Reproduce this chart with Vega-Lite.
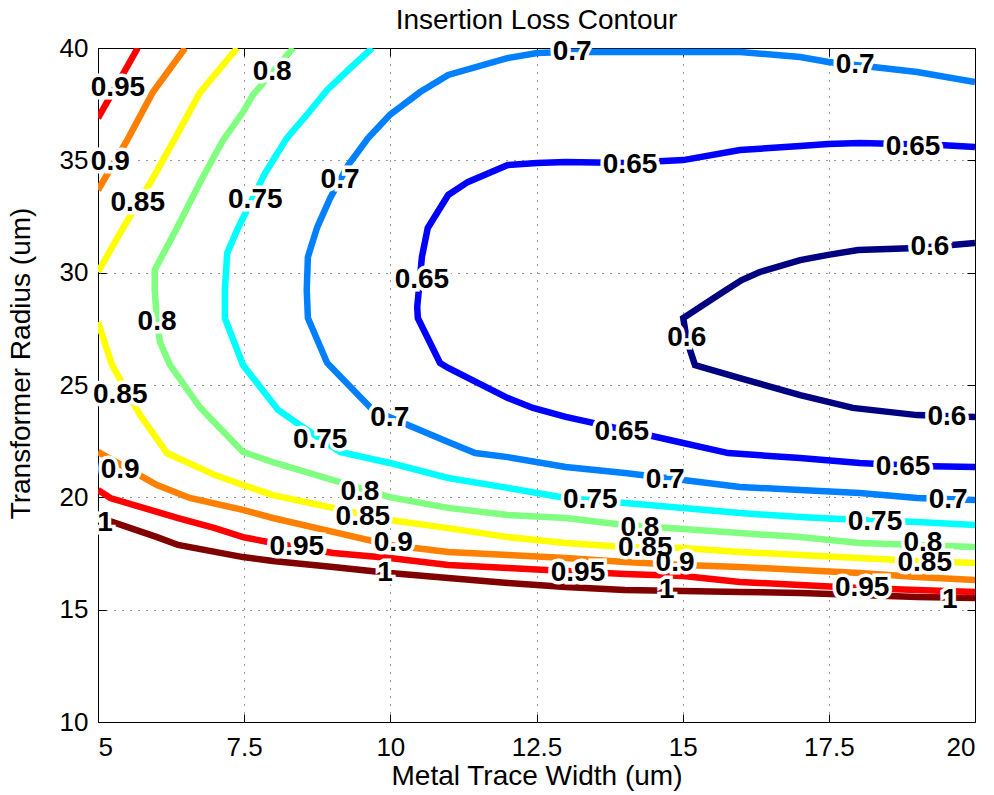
{
  "$schema": "https://vega.github.io/schema/vega-lite/v6.json",
  "width": 877,
  "height": 674,
  "autosize": {"type": "none"},
  "padding": {"left": 98, "top": 48, "right": 19, "bottom": 73},
  "background": "white",
  "title": {"text": "Insertion Loss Contour", "fontSize": 28, "fontWeight": "normal", "font": "Liberation Sans", "color": "black", "anchor": "middle", "frame": "group", "offset": 0},
  "datasets": {
    "lines": [
      {"level": "1", "seg": "a", "i": 0, "x": 5.00, "y": 19.12},
      {"level": "1", "seg": "a", "i": 1, "x": 6.01, "y": 18.23},
      {"level": "1", "seg": "a", "i": 2, "x": 6.37, "y": 17.88},
      {"level": "1", "seg": "a", "i": 3, "x": 7.00, "y": 17.57},
      {"level": "1", "seg": "a", "i": 4, "x": 7.48, "y": 17.34},
      {"level": "1", "seg": "a", "i": 5, "x": 7.99, "y": 17.17},
      {"level": "1", "seg": "a", "i": 6, "x": 9.02, "y": 16.90},
      {"level": "1", "seg": "a", "i": 7, "x": 9.99, "y": 16.63},
      {"level": "1", "seg": "a", "i": 8, "x": 10.99, "y": 16.41},
      {"level": "1", "seg": "a", "i": 9, "x": 12.01, "y": 16.19},
      {"level": "1", "seg": "a", "i": 10, "x": 13.00, "y": 16.01},
      {"level": "1", "seg": "a", "i": 11, "x": 14.01, "y": 15.88},
      {"level": "1", "seg": "a", "i": 12, "x": 15.01, "y": 15.83},
      {"level": "1", "seg": "a", "i": 13, "x": 15.98, "y": 15.79},
      {"level": "1", "seg": "a", "i": 14, "x": 17.01, "y": 15.74},
      {"level": "1", "seg": "a", "i": 15, "x": 18.03, "y": 15.65},
      {"level": "1", "seg": "a", "i": 16, "x": 19.01, "y": 15.56},
      {"level": "1", "seg": "a", "i": 17, "x": 20.00, "y": 15.52},

      {"level": "0.95", "seg": "a", "i": 0, "x": 5.00, "y": 36.88},
      {"level": "0.95", "seg": "a", "i": 1, "x": 5.68, "y": 40.00},
      {"level": "0.95", "seg": "b", "i": 0, "x": 5.00, "y": 20.33},
      {"level": "0.95", "seg": "b", "i": 1, "x": 5.21, "y": 19.97},
      {"level": "0.95", "seg": "b", "i": 2, "x": 6.01, "y": 19.35},
      {"level": "0.95", "seg": "b", "i": 3, "x": 6.37, "y": 19.08},
      {"level": "0.95", "seg": "b", "i": 4, "x": 7.00, "y": 18.63},
      {"level": "0.95", "seg": "b", "i": 5, "x": 7.48, "y": 18.23},
      {"level": "0.95", "seg": "b", "i": 6, "x": 7.99, "y": 17.97},
      {"level": "0.95", "seg": "b", "i": 7, "x": 9.02, "y": 17.52},
      {"level": "0.95", "seg": "b", "i": 8, "x": 9.99, "y": 17.30},
      {"level": "0.95", "seg": "b", "i": 9, "x": 10.99, "y": 16.99},
      {"level": "0.95", "seg": "b", "i": 10, "x": 12.01, "y": 16.85},
      {"level": "0.95", "seg": "b", "i": 11, "x": 13.00, "y": 16.72},
      {"level": "0.95", "seg": "b", "i": 12, "x": 14.01, "y": 16.59},
      {"level": "0.95", "seg": "b", "i": 13, "x": 15.01, "y": 16.50},
      {"level": "0.95", "seg": "b", "i": 14, "x": 15.98, "y": 16.23},
      {"level": "0.95", "seg": "b", "i": 15, "x": 17.01, "y": 16.10},
      {"level": "0.95", "seg": "b", "i": 16, "x": 18.03, "y": 15.96},
      {"level": "0.95", "seg": "b", "i": 17, "x": 19.01, "y": 15.88},
      {"level": "0.95", "seg": "b", "i": 18, "x": 20.00, "y": 15.79},

      {"level": "0.9", "seg": "a", "i": 0, "x": 5.00, "y": 33.68},
      {"level": "0.9", "seg": "a", "i": 1, "x": 5.50, "y": 35.90},
      {"level": "0.9", "seg": "a", "i": 2, "x": 5.94, "y": 38.04},
      {"level": "0.9", "seg": "a", "i": 3, "x": 6.49, "y": 40.00},
      {"level": "0.9", "seg": "b", "i": 0, "x": 5.00, "y": 22.02},
      {"level": "0.9", "seg": "b", "i": 1, "x": 6.01, "y": 20.55},
      {"level": "0.9", "seg": "b", "i": 2, "x": 6.57, "y": 19.97},
      {"level": "0.9", "seg": "b", "i": 3, "x": 7.48, "y": 19.44},
      {"level": "0.9", "seg": "b", "i": 4, "x": 7.99, "y": 19.08},
      {"level": "0.9", "seg": "b", "i": 5, "x": 9.02, "y": 18.46},
      {"level": "0.9", "seg": "b", "i": 6, "x": 9.99, "y": 17.88},
      {"level": "0.9", "seg": "b", "i": 7, "x": 10.99, "y": 17.57},
      {"level": "0.9", "seg": "b", "i": 8, "x": 12.01, "y": 17.43},
      {"level": "0.9", "seg": "b", "i": 9, "x": 13.00, "y": 17.30},
      {"level": "0.9", "seg": "b", "i": 10, "x": 14.01, "y": 17.12},
      {"level": "0.9", "seg": "b", "i": 11, "x": 15.01, "y": 16.99},
      {"level": "0.9", "seg": "b", "i": 12, "x": 15.98, "y": 16.90},
      {"level": "0.9", "seg": "b", "i": 13, "x": 17.01, "y": 16.77},
      {"level": "0.9", "seg": "b", "i": 14, "x": 18.03, "y": 16.63},
      {"level": "0.9", "seg": "b", "i": 15, "x": 19.01, "y": 16.45},
      {"level": "0.9", "seg": "b", "i": 16, "x": 20.00, "y": 16.32},

      {"level": "0.85", "seg": "a", "i": 0, "x": 5.00, "y": 30.03},
      {"level": "0.85", "seg": "a", "i": 1, "x": 5.41, "y": 31.90},
      {"level": "0.85", "seg": "a", "i": 2, "x": 5.92, "y": 34.12},
      {"level": "0.85", "seg": "a", "i": 3, "x": 6.32, "y": 35.99},
      {"level": "0.85", "seg": "a", "i": 4, "x": 6.74, "y": 38.00},
      {"level": "0.85", "seg": "a", "i": 5, "x": 7.38, "y": 40.00},
      {"level": "0.85", "seg": "b", "i": 0, "x": 5.00, "y": 27.80},
      {"level": "0.85", "seg": "b", "i": 1, "x": 5.24, "y": 25.89},
      {"level": "0.85", "seg": "b", "i": 2, "x": 5.72, "y": 23.66},
      {"level": "0.85", "seg": "b", "i": 3, "x": 6.18, "y": 21.97},
      {"level": "0.85", "seg": "b", "i": 4, "x": 7.00, "y": 20.99},
      {"level": "0.85", "seg": "b", "i": 5, "x": 7.48, "y": 20.55},
      {"level": "0.85", "seg": "b", "i": 6, "x": 7.99, "y": 20.10},
      {"level": "0.85", "seg": "b", "i": 7, "x": 9.02, "y": 19.53},
      {"level": "0.85", "seg": "b", "i": 8, "x": 9.99, "y": 18.99},
      {"level": "0.85", "seg": "b", "i": 9, "x": 10.99, "y": 18.63},
      {"level": "0.85", "seg": "b", "i": 10, "x": 12.01, "y": 18.23},
      {"level": "0.85", "seg": "b", "i": 11, "x": 13.00, "y": 17.97},
      {"level": "0.85", "seg": "b", "i": 12, "x": 14.01, "y": 17.79},
      {"level": "0.85", "seg": "b", "i": 13, "x": 15.01, "y": 17.74},
      {"level": "0.85", "seg": "b", "i": 14, "x": 15.98, "y": 17.57},
      {"level": "0.85", "seg": "b", "i": 15, "x": 17.01, "y": 17.43},
      {"level": "0.85", "seg": "b", "i": 16, "x": 18.03, "y": 17.30},
      {"level": "0.85", "seg": "b", "i": 17, "x": 19.01, "y": 17.17},
      {"level": "0.85", "seg": "b", "i": 18, "x": 20.00, "y": 17.08},

      {"level": "0.8", "seg": "a", "i": 0, "x": 8.34, "y": 40.00},
      {"level": "0.8", "seg": "a", "i": 1, "x": 7.65, "y": 37.91},
      {"level": "0.8", "seg": "a", "i": 2, "x": 7.48, "y": 37.15},
      {"level": "0.8", "seg": "a", "i": 3, "x": 7.14, "y": 35.90},
      {"level": "0.8", "seg": "a", "i": 4, "x": 6.97, "y": 35.10},
      {"level": "0.8", "seg": "a", "i": 5, "x": 6.74, "y": 33.99},
      {"level": "0.8", "seg": "a", "i": 6, "x": 6.35, "y": 31.99},
      {"level": "0.8", "seg": "a", "i": 7, "x": 5.97, "y": 30.12},
      {"level": "0.8", "seg": "a", "i": 8, "x": 5.97, "y": 29.23},
      {"level": "0.8", "seg": "a", "i": 9, "x": 6.01, "y": 27.80},
      {"level": "0.8", "seg": "a", "i": 10, "x": 6.06, "y": 26.91},
      {"level": "0.8", "seg": "a", "i": 11, "x": 6.23, "y": 25.89},
      {"level": "0.8", "seg": "a", "i": 12, "x": 6.74, "y": 24.02},
      {"level": "0.8", "seg": "a", "i": 13, "x": 7.00, "y": 23.31},
      {"level": "0.8", "seg": "a", "i": 14, "x": 7.48, "y": 22.02},
      {"level": "0.8", "seg": "a", "i": 15, "x": 7.99, "y": 21.57},
      {"level": "0.8", "seg": "a", "i": 16, "x": 9.02, "y": 20.77},
      {"level": "0.8", "seg": "a", "i": 17, "x": 9.99, "y": 20.01},
      {"level": "0.8", "seg": "a", "i": 18, "x": 10.99, "y": 19.53},
      {"level": "0.8", "seg": "a", "i": 19, "x": 12.01, "y": 19.21},
      {"level": "0.8", "seg": "a", "i": 20, "x": 13.00, "y": 19.08},
      {"level": "0.8", "seg": "a", "i": 21, "x": 14.01, "y": 18.77},
      {"level": "0.8", "seg": "a", "i": 22, "x": 15.01, "y": 18.59},
      {"level": "0.8", "seg": "a", "i": 23, "x": 15.98, "y": 18.41},
      {"level": "0.8", "seg": "a", "i": 24, "x": 17.01, "y": 18.23},
      {"level": "0.8", "seg": "a", "i": 25, "x": 18.03, "y": 17.97},
      {"level": "0.8", "seg": "a", "i": 26, "x": 19.01, "y": 17.88},
      {"level": "0.8", "seg": "a", "i": 27, "x": 20.00, "y": 17.79},

      {"level": "0.75", "seg": "a", "i": 0, "x": 9.69, "y": 40.00},
      {"level": "0.75", "seg": "a", "i": 1, "x": 9.28, "y": 39.02},
      {"level": "0.75", "seg": "a", "i": 2, "x": 8.92, "y": 38.13},
      {"level": "0.75", "seg": "a", "i": 3, "x": 8.57, "y": 37.02},
      {"level": "0.75", "seg": "a", "i": 4, "x": 8.23, "y": 35.99},
      {"level": "0.75", "seg": "a", "i": 5, "x": 7.86, "y": 34.44},
      {"level": "0.75", "seg": "a", "i": 6, "x": 7.38, "y": 31.90},
      {"level": "0.75", "seg": "a", "i": 7, "x": 7.21, "y": 30.87},
      {"level": "0.75", "seg": "a", "i": 8, "x": 7.17, "y": 29.23},
      {"level": "0.75", "seg": "a", "i": 9, "x": 7.17, "y": 27.98},
      {"level": "0.75", "seg": "a", "i": 10, "x": 7.48, "y": 25.89},
      {"level": "0.75", "seg": "a", "i": 11, "x": 8.08, "y": 23.89},
      {"level": "0.75", "seg": "a", "i": 12, "x": 8.45, "y": 23.22},
      {"level": "0.75", "seg": "a", "i": 13, "x": 9.14, "y": 22.02},
      {"level": "0.75", "seg": "a", "i": 14, "x": 9.99, "y": 21.53},
      {"level": "0.75", "seg": "a", "i": 15, "x": 10.99, "y": 20.86},
      {"level": "0.75", "seg": "a", "i": 16, "x": 12.01, "y": 20.42},
      {"level": "0.75", "seg": "a", "i": 17, "x": 13.00, "y": 19.97},
      {"level": "0.75", "seg": "a", "i": 18, "x": 14.01, "y": 19.75},
      {"level": "0.75", "seg": "a", "i": 19, "x": 15.01, "y": 19.53},
      {"level": "0.75", "seg": "a", "i": 20, "x": 15.98, "y": 19.30},
      {"level": "0.75", "seg": "a", "i": 21, "x": 17.01, "y": 19.12},
      {"level": "0.75", "seg": "a", "i": 22, "x": 18.03, "y": 18.99},
      {"level": "0.75", "seg": "a", "i": 23, "x": 19.01, "y": 18.90},
      {"level": "0.75", "seg": "a", "i": 24, "x": 20.00, "y": 18.77},

      {"level": "0.7", "seg": "a", "i": 0, "x": 20.00, "y": 38.49},
      {"level": "0.7", "seg": "a", "i": 1, "x": 19.01, "y": 38.93},
      {"level": "0.7", "seg": "a", "i": 2, "x": 18.26, "y": 39.15},
      {"level": "0.7", "seg": "a", "i": 3, "x": 17.49, "y": 39.38},
      {"level": "0.7", "seg": "a", "i": 4, "x": 17.01, "y": 39.60},
      {"level": "0.7", "seg": "a", "i": 5, "x": 15.98, "y": 39.82},
      {"level": "0.7", "seg": "a", "i": 6, "x": 15.01, "y": 39.82},
      {"level": "0.7", "seg": "a", "i": 7, "x": 14.01, "y": 39.82},
      {"level": "0.7", "seg": "a", "i": 8, "x": 13.00, "y": 39.82},
      {"level": "0.7", "seg": "a", "i": 9, "x": 12.51, "y": 39.78},
      {"level": "0.7", "seg": "a", "i": 10, "x": 12.00, "y": 39.55},
      {"level": "0.7", "seg": "a", "i": 11, "x": 10.99, "y": 38.80},
      {"level": "0.7", "seg": "a", "i": 12, "x": 10.51, "y": 38.04},
      {"level": "0.7", "seg": "a", "i": 13, "x": 9.99, "y": 37.02},
      {"level": "0.7", "seg": "a", "i": 14, "x": 9.62, "y": 35.99},
      {"level": "0.7", "seg": "a", "i": 15, "x": 9.28, "y": 34.79},
      {"level": "0.7", "seg": "a", "i": 16, "x": 8.97, "y": 33.32},
      {"level": "0.7", "seg": "a", "i": 17, "x": 8.75, "y": 32.03},
      {"level": "0.7", "seg": "a", "i": 18, "x": 8.59, "y": 30.70},
      {"level": "0.7", "seg": "a", "i": 19, "x": 8.57, "y": 29.23},
      {"level": "0.7", "seg": "a", "i": 20, "x": 8.59, "y": 27.98},
      {"level": "0.7", "seg": "a", "i": 21, "x": 8.92, "y": 25.98},
      {"level": "0.7", "seg": "a", "i": 22, "x": 9.70, "y": 23.89},
      {"level": "0.7", "seg": "a", "i": 23, "x": 10.30, "y": 23.22},
      {"level": "0.7", "seg": "a", "i": 24, "x": 10.99, "y": 22.46},
      {"level": "0.7", "seg": "a", "i": 25, "x": 11.45, "y": 21.97},
      {"level": "0.7", "seg": "a", "i": 26, "x": 12.01, "y": 21.79},
      {"level": "0.7", "seg": "a", "i": 27, "x": 13.00, "y": 21.35},
      {"level": "0.7", "seg": "a", "i": 28, "x": 14.01, "y": 21.08},
      {"level": "0.7", "seg": "a", "i": 29, "x": 15.01, "y": 20.77},
      {"level": "0.7", "seg": "a", "i": 30, "x": 15.98, "y": 20.46},
      {"level": "0.7", "seg": "a", "i": 31, "x": 17.01, "y": 20.33},
      {"level": "0.7", "seg": "a", "i": 32, "x": 18.03, "y": 20.19},
      {"level": "0.7", "seg": "a", "i": 33, "x": 19.01, "y": 19.97},
      {"level": "0.7", "seg": "a", "i": 34, "x": 20.00, "y": 19.88},

      {"level": "0.65", "seg": "a", "i": 0, "x": 20.00, "y": 35.59},
      {"level": "0.65", "seg": "a", "i": 1, "x": 19.40, "y": 35.68},
      {"level": "0.65", "seg": "a", "i": 2, "x": 18.03, "y": 35.77},
      {"level": "0.65", "seg": "a", "i": 3, "x": 17.49, "y": 35.73},
      {"level": "0.65", "seg": "a", "i": 4, "x": 17.01, "y": 35.64},
      {"level": "0.65", "seg": "a", "i": 5, "x": 15.98, "y": 35.46},
      {"level": "0.65", "seg": "a", "i": 6, "x": 15.01, "y": 35.01},
      {"level": "0.65", "seg": "a", "i": 7, "x": 14.01, "y": 34.88},
      {"level": "0.65", "seg": "a", "i": 8, "x": 13.00, "y": 34.93},
      {"level": "0.65", "seg": "a", "i": 9, "x": 12.51, "y": 34.88},
      {"level": "0.65", "seg": "a", "i": 10, "x": 12.01, "y": 34.79},
      {"level": "0.65", "seg": "a", "i": 11, "x": 11.33, "y": 34.04},
      {"level": "0.65", "seg": "a", "i": 12, "x": 10.99, "y": 33.46},
      {"level": "0.65", "seg": "a", "i": 13, "x": 10.64, "y": 31.99},
      {"level": "0.65", "seg": "a", "i": 14, "x": 10.54, "y": 30.70},
      {"level": "0.65", "seg": "a", "i": 15, "x": 10.46, "y": 28.47},
      {"level": "0.65", "seg": "a", "i": 16, "x": 10.47, "y": 27.98},
      {"level": "0.65", "seg": "a", "i": 17, "x": 10.85, "y": 25.98},
      {"level": "0.65", "seg": "a", "i": 18, "x": 10.99, "y": 25.76},
      {"level": "0.65", "seg": "a", "i": 19, "x": 12.01, "y": 24.42},
      {"level": "0.65", "seg": "a", "i": 20, "x": 12.44, "y": 23.98},
      {"level": "0.65", "seg": "a", "i": 21, "x": 13.00, "y": 23.58},
      {"level": "0.65", "seg": "a", "i": 22, "x": 14.01, "y": 23.00},
      {"level": "0.65", "seg": "a", "i": 23, "x": 14.78, "y": 22.55},
      {"level": "0.65", "seg": "a", "i": 24, "x": 15.78, "y": 21.97},
      {"level": "0.65", "seg": "a", "i": 25, "x": 17.01, "y": 21.75},
      {"level": "0.65", "seg": "a", "i": 26, "x": 18.03, "y": 21.53},
      {"level": "0.65", "seg": "a", "i": 27, "x": 19.01, "y": 21.39},
      {"level": "0.65", "seg": "a", "i": 28, "x": 20.00, "y": 21.35},

      {"level": "0.6", "seg": "a", "i": 0, "x": 20.00, "y": 31.32},
      {"level": "0.6", "seg": "a", "i": 1, "x": 19.01, "y": 31.10},
      {"level": "0.6", "seg": "a", "i": 2, "x": 18.00, "y": 31.01},
      {"level": "0.6", "seg": "a", "i": 3, "x": 17.49, "y": 30.79},
      {"level": "0.6", "seg": "a", "i": 4, "x": 17.01, "y": 30.56},
      {"level": "0.6", "seg": "a", "i": 5, "x": 16.32, "y": 30.03},
      {"level": "0.6", "seg": "a", "i": 6, "x": 16.01, "y": 29.67},
      {"level": "0.6", "seg": "a", "i": 7, "x": 15.69, "y": 29.14},
      {"level": "0.6", "seg": "a", "i": 8, "x": 15.01, "y": 27.98},
      {"level": "0.6", "seg": "a", "i": 9, "x": 15.07, "y": 27.00},
      {"level": "0.6", "seg": "a", "i": 10, "x": 15.21, "y": 25.89},
      {"level": "0.6", "seg": "a", "i": 11, "x": 15.98, "y": 25.31},
      {"level": "0.6", "seg": "a", "i": 12, "x": 17.01, "y": 24.55},
      {"level": "0.6", "seg": "a", "i": 13, "x": 17.91, "y": 23.98},
      {"level": "0.6", "seg": "a", "i": 14, "x": 19.01, "y": 23.66},
      {"level": "0.6", "seg": "a", "i": 15, "x": 20.00, "y": 23.58}
    ],
    "labels": [
      {"label": "0.95", "x": 5.34, "y": 38.22},
      {"label": "0.9", "x": 5.21, "y": 34.93},
      {"label": "0.85", "x": 5.68, "y": 33.10},
      {"label": "0.8", "x": 7.98, "y": 38.93},
      {"label": "0.75", "x": 7.69, "y": 33.23},
      {"label": "0.7", "x": 9.14, "y": 34.12},
      {"label": "0.7", "x": 13.11, "y": 39.82},
      {"label": "0.7", "x": 17.95, "y": 39.24},
      {"label": "0.65", "x": 14.10, "y": 34.79},
      {"label": "0.65", "x": 18.94, "y": 35.59},
      {"label": "0.65", "x": 10.54, "y": 29.67},
      {"label": "0.6", "x": 19.23, "y": 31.14},
      {"label": "0.6", "x": 15.07, "y": 27.09},
      {"label": "0.6", "x": 19.52, "y": 23.58},
      {"label": "0.65", "x": 13.96, "y": 22.91},
      {"label": "0.65", "x": 18.77, "y": 21.35},
      {"label": "0.7", "x": 9.99, "y": 23.53},
      {"label": "0.7", "x": 14.70, "y": 20.77},
      {"label": "0.7", "x": 19.54, "y": 19.88},
      {"label": "0.75", "x": 8.80, "y": 22.55},
      {"label": "0.75", "x": 13.42, "y": 19.88},
      {"label": "0.75", "x": 18.29, "y": 18.90},
      {"label": "0.8", "x": 6.01, "y": 27.80},
      {"label": "0.8", "x": 9.48, "y": 20.24},
      {"label": "0.8", "x": 14.27, "y": 18.63},
      {"label": "0.8", "x": 19.11, "y": 17.97},
      {"label": "0.85", "x": 5.38, "y": 24.55},
      {"label": "0.85", "x": 9.53, "y": 19.12},
      {"label": "0.85", "x": 14.36, "y": 17.74},
      {"label": "0.85", "x": 19.14, "y": 17.08},
      {"label": "0.9", "x": 5.38, "y": 21.22},
      {"label": "0.9", "x": 10.05, "y": 17.97},
      {"label": "0.9", "x": 14.87, "y": 17.08},
      {"label": "0.95", "x": 8.40, "y": 17.79},
      {"label": "0.95", "x": 13.21, "y": 16.63},
      {"label": "0.95", "x": 18.07, "y": 15.96},
      {"label": "1", "x": 5.12, "y": 18.86},
      {"label": "1", "x": 9.91, "y": 16.63},
      {"label": "1", "x": 14.73, "y": 15.88},
      {"label": "1", "x": 19.57, "y": 15.43}
    ]
  },
  "layer": [
    {
      "data": {"name": "lines"},
      "mark": {"type": "line", "strokeWidth": 6.5, "strokeJoin": "miter", "strokeCap": "butt", "clip": true},
      "encoding": {
        "x": {"field": "x", "type": "quantitative", "scale": {"domain": [5, 20], "nice": false, "zero": false},
              "axis": {"orient": "bottom", "values": [5, 7.5, 10, 12.5, 15, 17.5, 20], "labelExpr": "'' + datum.value", "title": "Metal Trace Width (um)", "grid": true}},
        "y": {"field": "y", "type": "quantitative", "scale": {"domain": [10, 40], "nice": false, "zero": false},
              "axis": {"orient": "left", "values": [10, 15, 20, 25, 30, 35, 40], "labelExpr": "'' + datum.value", "title": "Transformer Radius (um)", "titleY": 315, "grid": true}},
        "color": {"field": "level", "type": "nominal",
                  "scale": {"domain": ["0.6", "0.65", "0.7", "0.75", "0.8", "0.85", "0.9", "0.95", "1"],
                            "range": ["#000080", "#0000FF", "#0080FF", "#00FFFF", "#80FF80", "#FFFF00", "#FF8000", "#FF0000", "#800000"]},
                  "legend": null},
        "detail": {"field": "seg", "type": "nominal"},
        "order": {"field": "i", "type": "quantitative"}
      }
    },
    {
      "data": {"name": "labels"},
      "mark": {"type": "text", "font": "Liberation Sans", "fontWeight": "bold", "fontSize": 28, "fill": "white", "stroke": "white", "strokeWidth": 7, "align": "center", "baseline": "middle"},
      "encoding": {
        "x": {"field": "x", "type": "quantitative", "axis": {"orient": "top", "values": [5, 7.5, 10, 12.5, 15, 17.5, 20], "labels": false, "title": null, "grid": false}},
        "y": {"field": "y", "type": "quantitative", "axis": {"orient": "right", "values": [10, 15, 20, 25, 30, 35, 40], "labels": false, "title": null, "grid": false}},
        "text": {"field": "label", "type": "nominal"}
      }
    },
    {
      "data": {"name": "labels"},
      "mark": {"type": "text", "font": "Liberation Sans", "fontWeight": "bold", "fontSize": 28, "fill": "black", "align": "center", "baseline": "middle"},
      "encoding": {
        "x": {"field": "x", "type": "quantitative", "axis": null},
        "y": {"field": "y", "type": "quantitative", "axis": null},
        "text": {"field": "label", "type": "nominal"}
      }
    }
  ],
  "resolve": {"axis": {"x": "independent", "y": "independent"}},
  "config": {
    "view": {"stroke": null},
    "axis": {
      "domainColor": "black", "domainWidth": 1,
      "tickColor": "black", "tickSize": -8, "tickWidth": 1,
      "gridColor": "black", "gridDash": [1, 7], "gridOpacity": 0.8, "gridWidth": 1,
      "labelFont": "Liberation Sans", "labelFontSize": 26, "labelColor": "black",
      "titleFont": "Liberation Sans", "titleFontSize": 28, "titleFontWeight": "normal", "titleColor": "black",
      "zindex": 1
    },
    "axisBottom": {"labelPadding": 20, "titlePadding": 2},
    "axisLeft": {"labelPadding": 18, "titlePadding": 24}
  }
}
